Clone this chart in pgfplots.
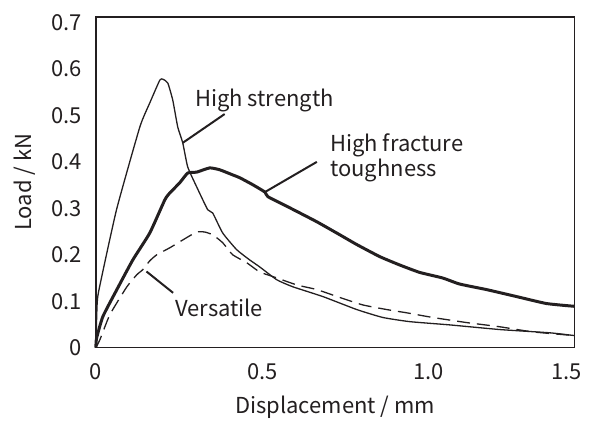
\documentclass[border=0pt]{standalone}
\usepackage{fontspec}
\setmainfont{Noto Sans CJK JP}
\usepackage{pgfplots}
\pgfplotsset{compat=1.18}
\definecolor{ink}{HTML}{231F20}

\begin{document}
\fontsize{11}{11.2}\selectfont
\begin{tikzpicture}
\begin{axis}[
    scale only axis,
    width=239.5pt, height=165.5pt,
    xmin=0, xmax=1.438, ymin=0, ymax=0.712,
    axis line style={ink, line width=0.8pt},
    major tick length=0pt,
    xtick={0,0.5,1,1.414}, xticklabels={0,0.5,1.0,1.5},
    ytick={0,0.1,0.2,0.3,0.4,0.5,0.6,0.7},
    yticklabels={0,0.1,0.2,0.3,0.4,0.5,0.6,0.7},
    xticklabel style={yshift=-4pt, text=ink},
    yticklabel style={xshift=-3pt, text=ink},
    xlabel={Displacement / mm}, ylabel={Load / kN},
    xlabel style={at={(axis description cs:0.5,-0.181)}, anchor=center, text=ink},
    ylabel style={at={(axis description cs:-0.148,0.5)}, anchor=center, text=ink},
    clip=false,
]
% high strength
\addplot[ink, line width=0.65pt, line join=round, smooth, tension=0.3] coordinates {
 (0,0) (0.003,0.08) (0.008,0.12) (0.062,0.297) (0.132,0.475) (0.162,0.527)
 (0.192,0.576) (0.201,0.578) (0.216,0.570) (0.231,0.533) (0.246,0.475)
 (0.261,0.441) (0.276,0.389) (0.303,0.346) (0.336,0.297) (0.351,0.290)
 (0.381,0.247) (0.423,0.211) (0.462,0.189) (0.492,0.174) (0.544,0.146)
 (0.592,0.131) (0.682,0.110) (0.784,0.082) (0.862,0.065) (0.943,0.056)
 (1.063,0.049) (1.213,0.039) (1.363,0.032) (1.438,0.026)
};
% high fracture toughness
\addplot[ink, line width=1.5pt, line join=round, smooth, tension=0.3] coordinates {
 (0,0) (0.002,0.02) (0.021,0.067) (0.063,0.125) (0.111,0.189) (0.162,0.247)
 (0.207,0.318) (0.222,0.333) (0.252,0.355) (0.276,0.376) (0.303,0.378)
 (0.342,0.387) (0.372,0.383) (0.411,0.372) (0.432,0.366) (0.471,0.351)
 (0.508,0.335) (0.517,0.325) (0.583,0.301) (0.664,0.271) (0.733,0.243)
 (0.784,0.222) (0.853,0.196) (0.913,0.178) (0.973,0.162) (1.042,0.150)
 (1.093,0.137) (1.174,0.125) (1.264,0.110) (1.354,0.095) (1.438,0.089)
};
% versatile
\addplot[ink, line width=0.65pt, dash pattern=on 6.5pt off 3.5pt, smooth, tension=0.3] coordinates {
 (0,0) (0.012,0.017) (0.042,0.071) (0.093,0.131) (0.123,0.157) (0.141,0.168)
 (0.162,0.187) (0.183,0.200) (0.222,0.215) (0.273,0.237) (0.303,0.249)
 (0.327,0.249) (0.351,0.243) (0.381,0.226) (0.411,0.200) (0.453,0.183)
 (0.492,0.163) (0.532,0.153) (0.604,0.135) (0.664,0.125) (0.733,0.108)
 (0.802,0.092) (0.874,0.082) (0.934,0.075) (1.012,0.065) (1.114,0.054)
 (1.213,0.045) (1.312,0.034) (1.438,0.026)
};
% callouts
\draw[ink, line width=1pt] (axis cs:0.261,0.441) -- (axis cs:0.387,0.503);
\node[anchor=west, text=ink, inner sep=0pt] at (axis cs:0.297,0.533) {High strength};
\draw[ink, line width=1pt] (axis cs:0.508,0.335) -- (axis cs:0.664,0.400);
\node[anchor=west, align=left, text=ink, inner sep=0pt] at (axis cs:0.703,0.409) {High fracture\\toughness};
\draw[ink, line width=1pt] (axis cs:0.152,0.164) -- (axis cs:0.232,0.118);
\node[anchor=west, text=ink, inner sep=0pt] at (axis cs:0.237,0.086) {Versatile};
% page extent
\path (rel axis cs:-0.2004,-0.2205) rectangle (rel axis cs:1.0292,1.0514);
\end{axis}
\end{tikzpicture}
\end{document}
